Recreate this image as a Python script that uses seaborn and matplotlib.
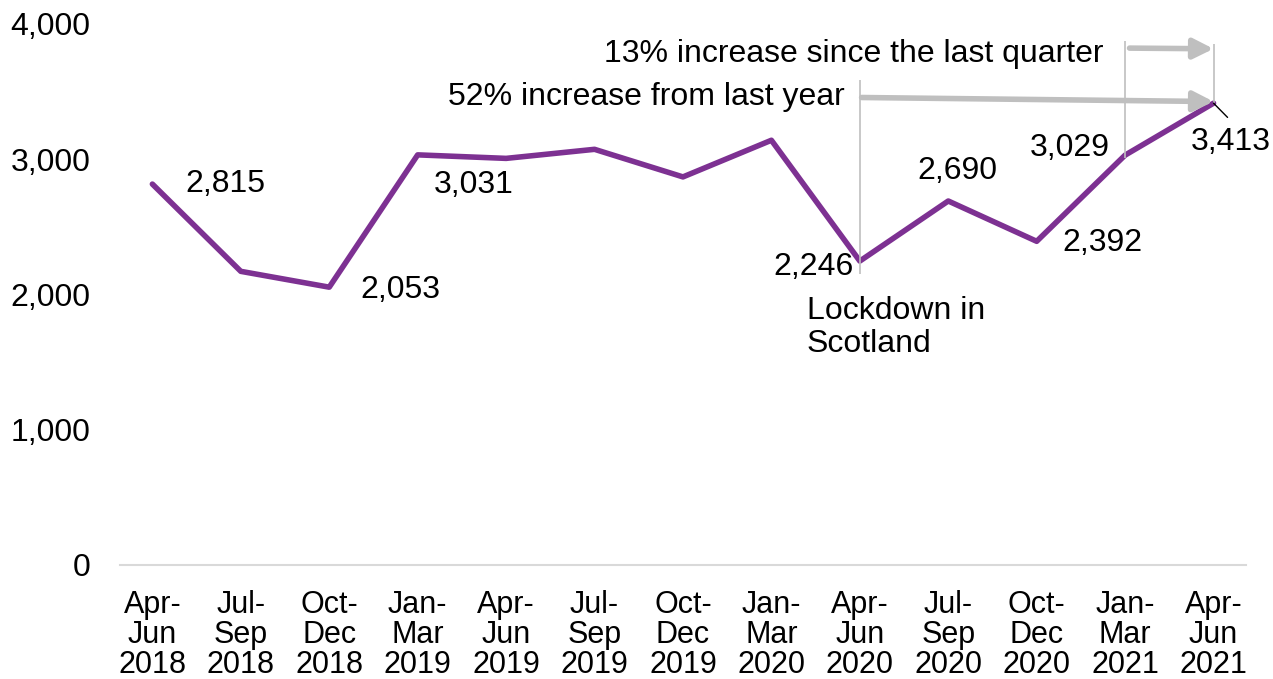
import numpy as np
import pandas as pd
import seaborn as sns
import matplotlib.pyplot as plt
from matplotlib.ticker import FuncFormatter

# Quarterly values
quarters = ['Apr-\nJun\n2018', 'Jul-\nSep\n2018', 'Oct-\nDec\n2018', 'Jan-\nMar\n2019',
            'Apr-\nJun\n2019', 'Jul-\nSep\n2019', 'Oct-\nDec\n2019', 'Jan-\nMar\n2020',
            'Apr-\nJun\n2020', 'Jul-\nSep\n2020', 'Oct-\nDec\n2020', 'Jan-\nMar\n2021',
            'Apr-\nJun\n2021']
counts = [2815, 2170, 2053, 3031, 3005, 3072, 2868, 3139, 2246, 2690, 2392, 3029, 3413]

# which points get a value label, and label offset in pixels (dx right, dy up)
labelled = {0: (73, 0), 2: (71, -3), 3: (56, -30), 8: (-46, -6), 9: (9, 30),
            10: (66, -2), 11: (-55, 7), 12: (17, -39)}

sns.set_theme(style='white')
plt.rcParams['font.family'] = ['Liberation Sans', 'DejaVu Sans']
plt.rcParams['text.color'] = 'black'
plt.rcParams['xtick.color'] = 'black'
plt.rcParams['ytick.color'] = 'black'

df = pd.DataFrame({'x': np.arange(len(quarters)), 'count': counts})

fig = plt.figure(figsize=(12.73, 6.79), dpi=100)
ax = fig.add_axes([0.094, 0.168, 0.885, 0.797])

sns.lineplot(data=df, x='x', y='count', color='#7d3192', linewidth=4, ax=ax)

fs = 23
ax.set_ylim(0, 4000)
ax.set_xlim(-0.37, 12.37)
ax.set_yticks([0, 1000, 2000, 3000, 4000])
ax.yaxis.set_major_formatter(FuncFormatter(lambda v, p: f'{int(v):,}'))
ax.set_xticks(df['x'])
ax.set_xticklabels(quarters, fontsize=22, linespacing=1.0)
ax.tick_params(axis='y', labelsize=fs, pad=15)
ax.tick_params(axis='x', pad=12)
ax.set_xlabel('')
ax.set_ylabel('')
for s in ['top', 'right', 'left']:
    ax.spines[s].set_visible(False)
ax.spines['bottom'].set_color('#d9d9d9')
ax.spines['bottom'].set_linewidth(1.5)

for i, (dx, dy) in labelled.items():
    ax.annotate(f'{counts[i]:,}', (i, counts[i]), xytext=(dx * 0.72, dy * 0.72),
                textcoords='offset points', ha='center', va='center', fontsize=fs)

# leader line for the last label
ax.annotate('', (12, counts[12]), xytext=(12 + 14 / 88.4, counts[12] - 105),
            arrowprops=dict(arrowstyle='-', color='black', lw=1, shrinkA=0, shrinkB=0))

# guide lines and arrows
grey = '#bfbfbf'
ax.vlines(8, 2150, 3585, color=grey, lw=1.2)
ax.vlines(11, 3010, 3875, color=grey, lw=1.2)
ax.vlines(12, counts[12], 3852, color=grey, lw=1.2)
ax.annotate('', (12, 3425), xytext=(8.02, 3455),
            arrowprops=dict(arrowstyle='-|>,head_length=1.0,head_width=0.5', color=grey, lw=4,
                            shrinkA=0, shrinkB=0))
ax.annotate('', (12, 3815), xytext=(11.05, 3820),
            arrowprops=dict(arrowstyle='-|>,head_length=1.0,head_width=0.5', color=grey, lw=4,
                            shrinkA=0, shrinkB=0))
ax.text(7.83, 3455, '52% increase from last year', ha='right', va='center', fontsize=fs)
ax.text(10.76, 3779, '13% increase since the last quarter', ha='right', va='center', fontsize=fs)
ax.text(7.40, 1985, 'Lockdown in\nScotland', ha='left', va='top', fontsize=fs, linespacing=1.1)

fig.savefig('out.png', dpi=100)
